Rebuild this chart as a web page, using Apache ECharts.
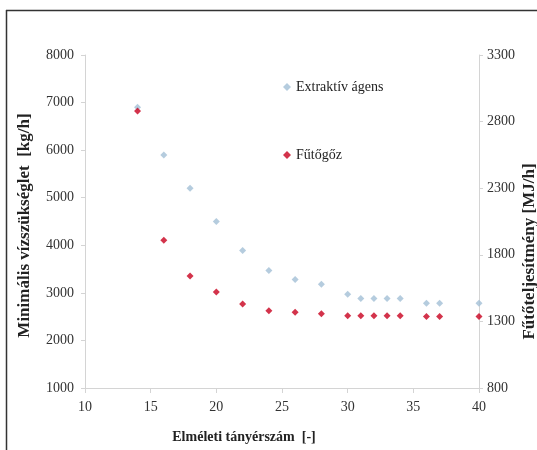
<!DOCTYPE html>
<html>
<head>
<meta charset="utf-8">
<script src="https://cdn.jsdelivr.net/npm/echarts@6/dist/echarts.min.js"></script>
<style>html,body{margin:0;padding:0;background:#fff;}#c{width:537px;height:450px;}</style>
</head>
<body>
<div id="c"></div>
<script>
const plates = [14, 16, 18, 20, 22, 24, 26, 28, 30, 31, 32, 33, 34, 36, 37, 40];
const extraktiv = [6900, 5900, 5200, 4500, 3890, 3470, 3280, 3180, 2970, 2880, 2880, 2880, 2880, 2780, 2780, 2780];
const futogoz = [2880, 1910, 1640, 1520, 1430, 1380, 1368, 1358, 1342, 1342, 1342, 1342, 1342, 1337, 1337, 1337];
const xTicks = [10, 15, 20, 25, 30, 35, 40];
const leftTicks = [1000, 2000, 3000, 4000, 5000, 6000, 7000, 8000];
const rightTicks = [800, 1300, 1800, 2300, 2800, 3300];

const font = 'Liberation Serif';
const chart = echarts.init(document.getElementById('c'));
const axisLine = {show: true, lineStyle: {color: '#d4d4d4', width: 1}};
const plain = v => String(v);
chart.setOption({
  animation: false,
  textStyle: {fontFamily: font},
  grid: {left: 85, right: 58, top: 55, bottom: 62, containLabel: false, outerBoundsMode: 'none'},
  graphic: [
    {type: 'line', shape: {x1: 6.5, y1: 10, x2: 6.5, y2: 450}, style: {stroke: '#333', lineWidth: 1.5}},
    {type: 'line', shape: {x1: 6, y1: 10.5, x2: 537, y2: 10.5}, style: {stroke: '#333', lineWidth: 1.5}}
  ],
  legend: {
    orient: 'vertical', left: 278, top: 75, itemGap: 54,
    itemWidth: 8, itemHeight: 8,
    textStyle: {fontFamily: font, fontSize: 14, color: '#222'},
    data: [{name: 'Extraktív ágens', icon: 'diamond'}, {name: 'Fűtőgőz', icon: 'diamond'}]
  },
  xAxis: {
    type: 'value', min: xTicks[0], max: xTicks[xTicks.length - 1], interval: 5,
    name: 'Elméleti tányérszám  [-]', nameLocation: 'middle', nameGap: 42,
    nameTextStyle: {fontFamily: font, fontWeight: 'bold', fontSize: 14, color: '#222', padding: [0, 76, 0, 0]},
    axisLine: axisLine,
    axisTick: {show: true, length: 5, lineStyle: {color: '#d4d4d4'}},
    axisLabel: {fontFamily: font, fontSize: 14, color: '#333', margin: 12, formatter: plain},
    splitLine: {show: false}
  },
  yAxis: [{
    type: 'value', min: leftTicks[0], max: leftTicks[leftTicks.length - 1], interval: 1000,
    name: 'Minimális vízszükséglet  [kg/h]', nameLocation: 'middle', nameGap: 52, nameRotate: 90,
    nameMoveOverlap: false,
    nameTextStyle: {fontFamily: font, fontWeight: 'bold', fontSize: 17, color: '#222', padding: [0, 8, 0, 0]},
    axisLine: axisLine,
    axisTick: {show: true, length: 4, lineStyle: {color: '#d4d4d4'}},
    axisLabel: {fontFamily: font, fontSize: 14, color: '#333', margin: 11, formatter: plain},
    splitLine: {show: false}
  }, {
    type: 'value', position: 'right', min: rightTicks[0], max: rightTicks[rightTicks.length - 1], interval: 500,
    name: 'Fűtőteljesítmény [MJ/h]', nameLocation: 'middle', nameGap: 42, nameRotate: 90,
    nameMoveOverlap: false,
    nameTextStyle: {fontFamily: font, fontWeight: 'bold', fontSize: 17, color: '#222', padding: [0, 60, 0, 0]},
    axisLine: axisLine,
    axisTick: {show: true, length: 4, lineStyle: {color: '#d4d4d4'}},
    axisLabel: {fontFamily: font, fontSize: 14, color: '#333', margin: 8, formatter: plain},
    splitLine: {show: false}
  }],
  series: [{
    name: 'Extraktív ágens', type: 'scatter', yAxisIndex: 0, symbol: 'diamond', symbolSize: 7,
    itemStyle: {color: '#a3bfd6'},
    data: plates.map((p, i) => [p, extraktiv[i]])
  }, {
    name: 'Fűtőgőz', type: 'scatter', yAxisIndex: 1, symbol: 'diamond', symbolSize: 7,
    itemStyle: {color: '#c8001e'},
    data: plates.map((p, i) => [p, futogoz[i]])
  }]
});
</script>
</body>
</html>
